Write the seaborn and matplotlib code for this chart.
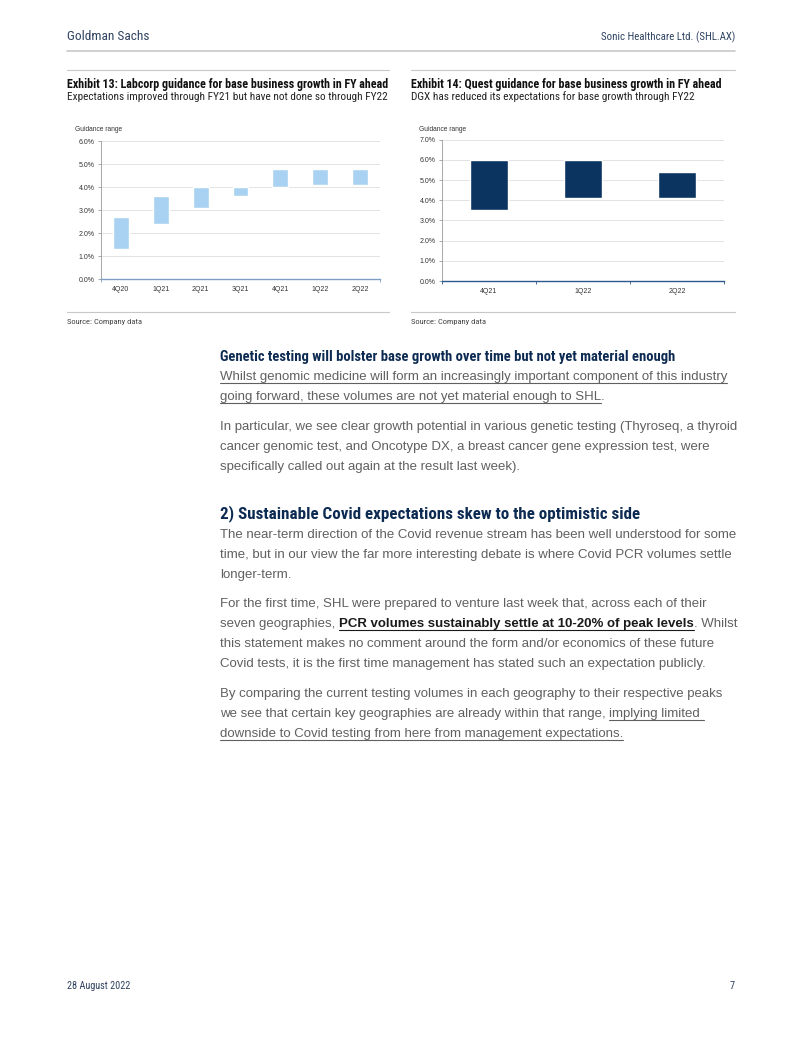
import numpy as np
import matplotlib
matplotlib.use("Agg")
import matplotlib.pyplot as plt
from matplotlib.lines import Line2D
import seaborn as sns

# Exhibit 13 : Labcorp guidance range (%)
lab_quarters = ["4Q20", "1Q21", "2Q21", "3Q21", "4Q21", "1Q22", "2Q22"]
lab_low = [1.3, 2.4, 3.1, 3.6, 4.0, 4.1, 4.1]
lab_high = [2.7, 3.6, 4.0, 4.0, 4.8, 4.8, 4.8]

# Exhibit 14 : Quest guidance range (%)
dgx_quarters = ["4Q21", "1Q22", "2Q22"]
dgx_low = [3.5, 4.1, 4.1]
dgx_high = [6.0, 6.0, 5.4]

W, H = 802, 1037
NAVY = "#0d2b52"
GREY = "#606060"
SANS = ["Liberation Sans", "DejaVu Sans"]
NARROW = ["Roboto Condensed", "DejaVu Sans"]

sns.set_theme(style="white")
plt.rcParams["font.family"] = SANS

fig = plt.figure(figsize=(W / 100, H / 100), dpi=100)
renderer = fig.canvas.get_renderer()


def hline(x0, x1, y, color="#c8c8c8", lw=1.0):
    fig.add_artist(Line2D([x0 / W, x1 / W], [1 - y / H, 1 - y / H],
                          color=color, lw=lw, transform=fig.transFigure))


def write(x, y, parts, size, color=GREY, family=SANS, ha="left", width=None):
    # parts = (texte, gras, souligné) posés l'un après l'autre sur la ligne de base y
    # width : largeur voulue en px -> on ajuste la taille de police
    if width is not None:
        tot = 0
        for txt, bold, ul in parts:
            t = fig.text(0, 0, txt, fontsize=size, family=family,
                         fontweight="bold" if bold else "normal")
            tot += t.get_window_extent(renderer).width
            t.remove()
        size = size * width / tot
    for txt, bold, ul in parts:
        c = "#1a1a1a" if (bold and color == GREY) else color
        t = fig.text(x / W, 1 - y / H, txt, fontsize=size, color=c, family=family,
                     fontweight="bold" if bold else "normal", va="baseline", ha=ha)
        bb = t.get_window_extent(renderer)
        if ul:
            hline(bb.x0, bb.x1, y + 2.5, color=c, lw=0.8)
        x += bb.width


def range_chart(left, right, top, bottom, cats, low, high, ymax, color, axis_color, inner_ticks):
    ax = fig.add_axes([left / W, 1 - bottom / H, (right - left) / W, (bottom - top) / H])
    span = [h - l for l, h in zip(low, high)]
    sns.barplot(x=cats, y=span, bottom=low, color=color, saturation=1, width=0.4,
                errorbar=None, ax=ax)
    ax.set_xlim(-0.5, len(cats) - 0.5)
    ax.set_ylim(0, ymax)
    ticks = np.arange(0, ymax + 0.5, 1.0)
    ax.set_yticks(ticks)
    ax.set_yticklabels([f"{v:.1f}%" for v in ticks])
    if inner_ticks:
        ax.set_xticks(np.arange(-0.5, len(cats)), minor=True)
    else:
        ax.set_xticks([-0.5, len(cats) - 0.5], minor=True)
    ax.yaxis.grid(True, color="#dedede", lw=0.6)
    ax.set_axisbelow(True)
    for s in ["top", "right"]:
        ax.spines[s].set_visible(False)
    ax.spines["left"].set_color("#9a9a9a")
    ax.spines["left"].set_linewidth(0.6)
    ax.spines["bottom"].set_color(axis_color)
    ax.spines["bottom"].set_linewidth(1.0)
    ax.tick_params(axis="x", which="major", length=0, labelsize=5, labelcolor="#333333", pad=5)
    ax.tick_params(axis="x", which="minor", length=2.5, width=0.6, color=axis_color, bottom=True)
    ax.tick_params(axis="y", length=2.5, width=0.6, color="#9a9a9a", left=True,
                   labelsize=5, labelcolor="#333333", pad=2)
    ax.set_xlabel("")
    ax.set_ylabel("")
    return ax


# En-tête
write(67, 40, [("Goldman Sachs", False, False)], 9, color="#2f4360", family=NARROW, width=83)
write(735, 40, [("Sonic Healthcare Ltd. (SHL.AX)", False, False)], 7, color="#2f4360",
      family=NARROW, ha="right", width=135)
hline(67, 735, 50.5, color="#c8c8c8", lw=1.2)

# Exhibits
for x0, x1 in [(67, 389), (411, 735)]:
    hline(x0, x1, 70, lw=0.8)
    hline(x0, x1, 311.5, lw=0.8)

write(67, 88, [("Exhibit 13: Labcorp guidance for base business growth in FY ahead", True, False)],
      7.5, color="#111111", family=NARROW, width=319)
write(67, 100, [("Expectations improved through FY21 but have not done so through FY22", False, False)],
      7.5, color="#222222", family=NARROW, width=318)
write(411, 88, [("Exhibit 14: Quest guidance for base business growth in FY ahead", True, False)],
      7.5, color="#111111", family=NARROW, width=307)
write(411, 100, [("DGX has reduced its expectations for base growth through FY22", False, False)],
      7.5, color="#222222", family=NARROW, width=283)
write(75, 131, [("Guidance range", False, False)], 4.8, color="#333333")
write(419, 131, [("Guidance range", False, False)], 4.8, color="#333333")
write(67, 324, [("Source: Company data", False, False)], 6, color="#444444", family=NARROW, width=75)
write(411, 324, [("Source: Company data", False, False)], 6, color="#444444", family=NARROW, width=75)

range_chart(101, 380, 141, 279.3, lab_quarters, lab_low, lab_high, 6, "#a9d1f1", "#7f9fc4", False)
range_chart(442, 724, 139.7, 281, dgx_quarters, dgx_low, dgx_high, 7, "#0b3560", "#2c5a8c", True)

# Texte
X = 220
BODY = 9.55
write(X, 361, [("Genetic testing will bolster base growth over time but not yet material enough", True, False)],
      9, color=NAVY, family=NARROW, width=456)
write(X, 380, [("Whilst genomic medicine will form an increasingly important component of this industry", False, True)], BODY)
write(X, 400, [("going forward, these volumes are not yet material enough to SHL", False, True), (".", False, False)], BODY)
write(X, 430, [("In particular, we see clear growth potential in various genetic testing (Thyroseq, a thyroid", False, False)], BODY)
write(X, 450, [("cancer genomic test, and Oncotype DX, a breast cancer gene expression test, were", False, False)], BODY)
write(X, 470, [("specifically called out again at the result last week).", False, False)], BODY)

write(X, 518, [("2) Sustainable Covid expectations skew to the optimistic side", True, False)],
      11, color=NAVY, family=NARROW, width=418)
write(X, 538, [("The near-term direction of the Covid revenue stream has been well understood for some", False, False)], BODY)
write(X, 558, [("time, but in our view the far more interesting debate is where Covid PCR volumes settle", False, False)], BODY)
write(X, 578, [("longer-term.", False, False)], BODY)
write(X, 607, [("For the first time, SHL were prepared to venture last week that, across each of their", False, False)], BODY)
write(X, 627, [("seven geographies, ", False, False),
               ("PCR volumes sustainably settle at 10-20% of peak levels", True, True),
               (". Whilst", False, False)], BODY)
write(X, 647, [("this statement makes no comment around the form and/or economics of these future", False, False)], BODY)
write(X, 667, [("Covid tests, it is the first time management has stated such an expectation publicly.", False, False)], BODY)
write(X, 697, [("By comparing the current testing volumes in each geography to their respective peaks", False, False)], BODY)
write(X, 717, [("we see that certain key geographies are already within that range, ", False, False),
               ("implying limited ", False, True)], BODY)
write(X, 737, [("downside to Covid testing from here from management expectations.", False, True)], BODY)

# Pied de page
write(67, 989, [("28 August 2022", False, False)], 6.6, color="#2f4360", family=NARROW, width=63)
write(735, 989, [("7", False, False)], 7.5, color="#2f4360", family=NARROW, ha="right")

fig.savefig("out.png", dpi=100, facecolor="white")
